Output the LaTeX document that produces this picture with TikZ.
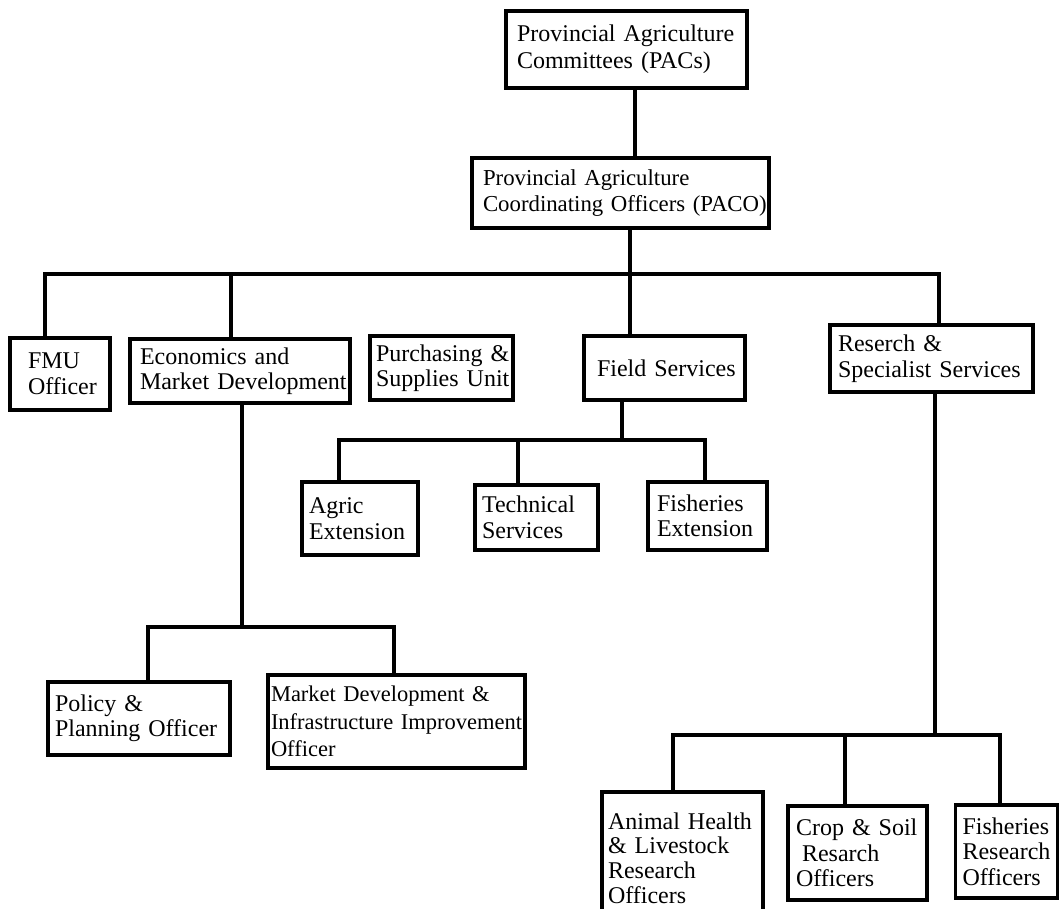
\documentclass[tikz,border=0pt]{standalone}
\usepackage{fontspec}
\setmainfont{Liberation Serif}
\begin{document}
\begin{tikzpicture}[x=1pt,y=-1pt,
  box/.style={draw, line width=3.1pt, inner ysep=0pt, inner xsep=#1, align=left,
    font=\fontsize{24}{25.5}\selectfont,
    execute at begin node={\hyphenpenalty=10000\exhyphenpenalty=10000\hbadness=10000\hfuzz=50pt}},
  conn/.style={line width=3.4pt}]
\path[fill=white] (0,0) rectangle (1060,909);
\useasboundingbox (0,0) rectangle (1060,909);
% boxes
\node[box=11pt, minimum width=241pt, minimum height=77pt, text width=219pt,
  font=\fontsize{24}{27}\selectfont] (pacs) at (626.5,49.5)
  {Provincial~Agriculture\\Committees~(PACs)};
\node[box=11pt, minimum width=297pt, minimum height=70pt, text width=275pt,
  font=\fontsize{22.8}{25.5}\selectfont] (paco) at (620.5,193)
  {Provincial~Agriculture\\Coordinating~Officers~(PACO)};
\node[box=18pt, minimum width=100pt, minimum height=72pt, text width=64pt] (fmu) at (60,374)
  {FMU\\Officer};
\node[box=10pt, minimum width=220pt, minimum height=64pt, text width=200pt] (econ) at (240,371)
  {Economics~and\\Market~Development};
\node[box=6pt, minimum width=143pt, minimum height=64pt, text width=131pt] (purch) at (441.5,368)
  {Purchasing~\&\\Supplies~Unit};
\node[box=13pt, minimum width=161pt, minimum height=64pt, text width=135pt] (field) at (664.5,368)
  {Field~Services};
\node[box=8pt, minimum width=203pt, minimum height=67pt, text width=187pt] (research) at (931.5,358.5)
  {Reserch~\&\\Specialist~Services};
\node[box=7pt, minimum width=116pt, minimum height=73pt, text width=102pt] (agric) at (360,518.5)
  {Agric\\Extension};
\node[box=7pt, minimum width=123pt, minimum height=65pt, text width=109pt] (tech) at (536.5,517.5)
  {Technical\\Services};
\node[box=9pt, minimum width=119pt, minimum height=68pt, text width=101pt] (fishext) at (707.5,516)
  {Fisheries\\Extension};
\node[box=7pt, minimum width=182pt, minimum height=73pt, text width=168pt] (policy) at (139,718.5)
  {Policy~\&\\Planning~Officer};
\node[box=3pt, minimum width=257pt, minimum height=93pt, text width=251pt,
  font=\fontsize{22.5}{27.5}\selectfont] (market) at (396.5,721.5)
  {Market~Development~\&\\Infrastructure~Improvement\\Officer};
\node[box=6pt, minimum width=161pt, minimum height=132pt, text width=149pt,
  font=\fontsize{24}{24.8}\selectfont] (animal) at (682.5,858)
  {Animal~Health\\\&~Livestock\\Research\\Officers};
\node[box=8pt, minimum width=139pt, minimum height=94pt, text width=123pt] (crop) at (857.5,853)
  {Crop~\&~Soil\\\hspace*{0.25em}Resarch\\Officers};
\node[box=7pt, minimum width=102pt, minimum height=93pt, text width=88pt] (fishres) at (1006.5,851.5)
  {Fisheries\\Research\\Officers};
% junction coordinates
\coordinate (b0) at (45,274);
\coordinate (bE) at (231,274);
\coordinate (b3) at (630,274);
\coordinate (bR) at (939,274);
\coordinate (f0) at (622,440);
\coordinate (fa) at (339,440);
\coordinate (fb) at (518,440);
\coordinate (fc) at (705,440);
\coordinate (e0) at (242,627);
\coordinate (ea) at (148,627);
\coordinate (eb) at (394,627);
\coordinate (r0) at (935,735);
\coordinate (ra) at (673,735);
\coordinate (rb) at (845,735);
\coordinate (rc) at (1000,735);
% connectors
\draw[conn] ([xshift=8.5pt]pacs.south) -- ([xshift=8.5pt]pacs.south |- paco.north);
\draw[conn] (paco.south -| b3) -- (b3) -- (field.north -| b3);
\draw[conn] (fmu.north -| b0) -- (b0) -- (bR) -- (research.north -| bR);
\draw[conn] (econ.north -| bE) -- (bE);
\draw[conn] (field.south -| f0) -- (f0);
\draw[conn] (agric.north -| fa) -- (fa) -- (fc) -- (fishext.north -| fc);
\draw[conn] (fb) -- (tech.north -| fb);
\draw[conn] (econ.south -| e0) -- (e0);
\draw[conn] (policy.north -| ea) -- (ea) -- (eb) -- (market.north -| eb);
\draw[conn] (research.south -| r0) -- (r0);
\draw[conn] (animal.north -| ra) -- (ra) -- (rc) -- (fishres.north -| rc);
\draw[conn] (rb) -- (crop.north -| rb);
\end{tikzpicture}
\end{document}
